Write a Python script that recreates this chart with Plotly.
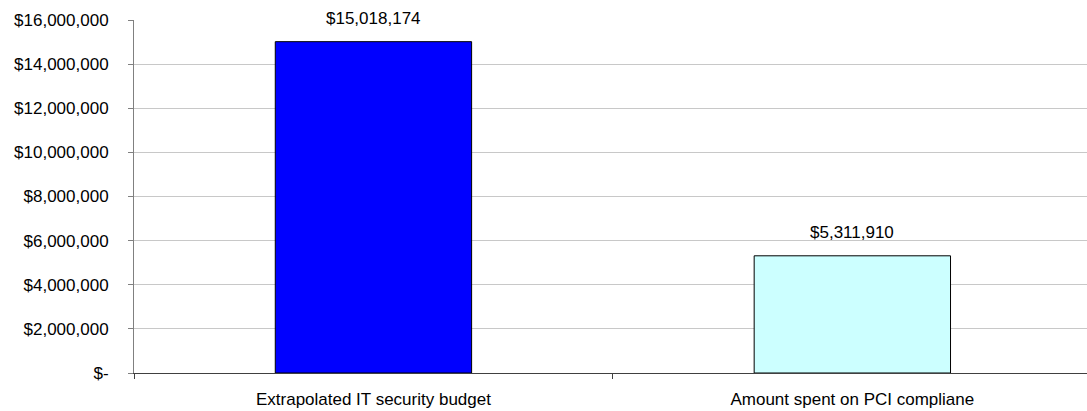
import plotly.graph_objects as go

categories = ["Extrapolated IT security budget", "Amount spent on PCI compliane"]
values = [15018174, 5311910]
bar_colors = ["#0000FF", "#CCFFFF"]
value_labels = ["$15,018,174", "$5,311,910"]
y_tickvals = [0, 2000000, 4000000, 6000000, 8000000, 10000000, 12000000, 14000000, 16000000]
y_ticktext = ["$-", "$2,000,000", "$4,000,000", "$6,000,000", "$8,000,000",
              "$10,000,000", "$12,000,000", "$14,000,000", "$16,000,000"]

FONT = "Liberation Sans, Arial, sans-serif"
FS = 17

fig = go.Figure()
fig.add_trace(go.Bar(
    x=categories, y=values,
    marker=dict(color=bar_colors, line=dict(color="#000000", width=1)),
    width=0.41,
    hoverinfo="skip",
))

for c, v, t in zip(categories, values, value_labels):
    fig.add_annotation(x=c, y=v, text=t, showarrow=False, yanchor="bottom",
                       yshift=12, font=dict(family=FONT, size=FS, color="#000000"))

fig.update_layout(
    width=1087, height=411,
    margin=dict(l=134, r=0, t=20, b=38),
    paper_bgcolor="white", plot_bgcolor="white",
    showlegend=False,
    font=dict(family=FONT, size=FS, color="#000000"),
    xaxis=dict(
        type="category", range=[-0.5, 1.49],
        showline=True, linecolor="#404040", linewidth=1,
        ticks="outside", tickson="boundaries", ticklen=5, tickcolor="#404040",
        showgrid=False, zeroline=False,
        ticklabelstandoff=11,
        tickfont=dict(family=FONT, size=FS, color="#000000"),
    ),
    yaxis=dict(
        range=[0, 16000000], tickvals=y_tickvals, ticktext=y_ticktext,
        showline=True, linecolor="#808080", linewidth=1,
        ticks="outside", ticklen=5, tickcolor="#808080",
        showgrid=True, gridcolor="#C8C8C8", gridwidth=1,
        zeroline=False,
        ticklabelstandoff=16,
        tickfont=dict(family=FONT, size=FS, color="#000000"),
    ),
)

fig.write_html("out.html")
